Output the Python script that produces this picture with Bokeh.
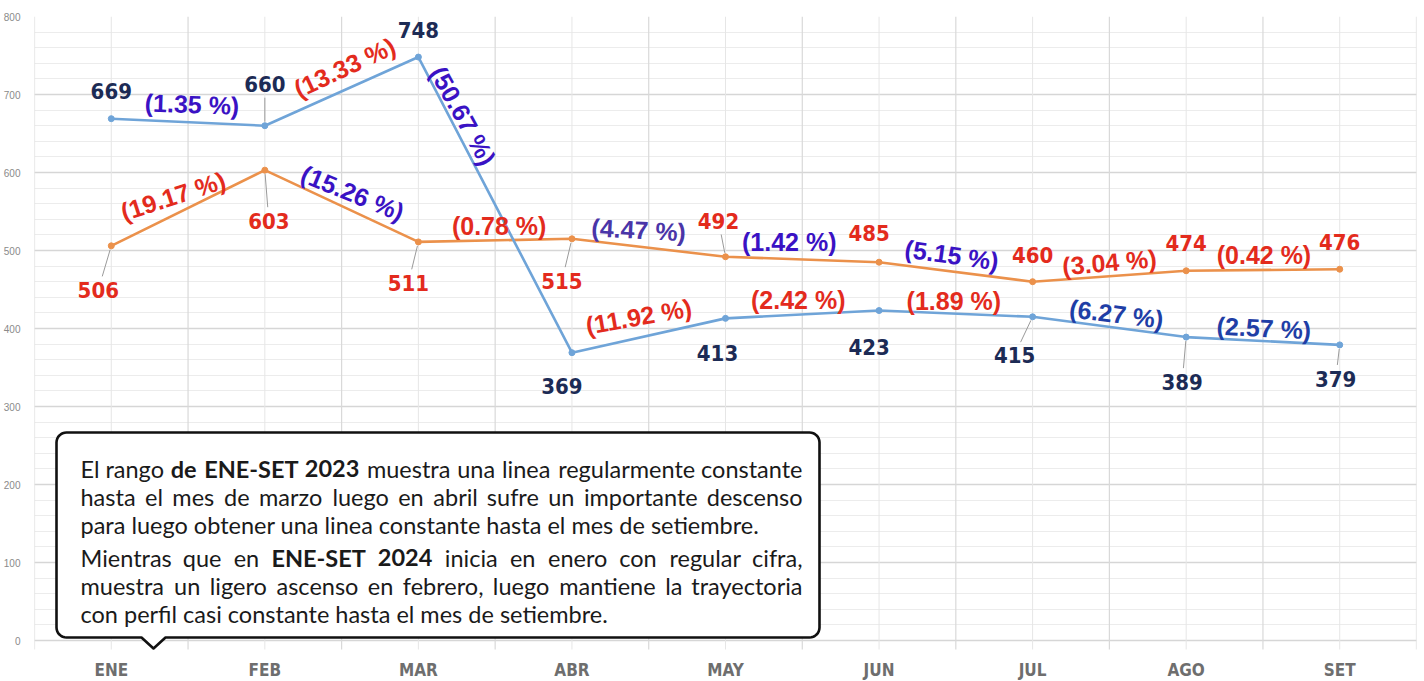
import math
from bokeh.plotting import figure
from bokeh.models import Range1d, FixedTicker, ColumnDataSource
from bokeh.core.properties import value
from bokeh.embed import file_html
from bokeh.resources import INLINE

# ---------------- data ----------------
months = ["ENE", "FEB", "MAR", "ABR", "MAY", "JUN", "JUL", "AGO", "SET"]
y2023 = [669, 660, 748, 369, 413, 423, 415, 389, 379]
y2024 = [506, 603, 511, 515, 492, 485, 460, 474, 476]
pct2023 = ["(1.35 %)", "(13.33 %)", "(50.67 %)", "(11.92 %)", "(2.42 %)",
           "(1.89 %)", "(6.27 %)", "(2.57 %)"]
pct2024 = ["(19.17 %)", "(15.26 %)", "(0.78 %)", "(4.47 %)", "(1.42 %)",
           "(5.15 %)", "(3.04 %)", "(0.42 %)"]
yticks = list(range(0, 801, 100))
yminor = list(range(0, 801, 20))

# callout text: lines of (text, bold) runs; justified flag
note_lines = [
    ([("El rango ", 0), ("de ENE-SET 2023", 1), (" muestra una linea regularmente constante", 0)], True),
    ([("hasta el mes de marzo  luego en abril sufre un importante descenso", 0)], True),
    ([("para luego obtener una linea constante hasta el mes de setiembre.", 0)], False),
    ([("Mientras que en ", 0), ("ENE-SET 2024", 1), (" inicia en enero con regular cifra,", 0)], True),
    ([("muestra un ligero ascenso en febrero, luego mantiene la trayectoria", 0)], True),
    ([("con perfil casi constante hasta el mes de setiembre.", 0)], False),
]

# ---------------- styles ----------------
BLUE = "#6fa4d8"
ORANGE = "#eb914b"
NAVY = "#1c2b55"
RED = "#e32b1d"
PURPLE = "#3a12c4"
PURPLE2 = "#4a35a8"
DBLUE = "#1f3ea6"

pct23_col = [PURPLE, RED, PURPLE, RED, RED, RED, DBLUE, DBLUE]
pct24_col = [RED, PURPLE, RED, PURPLE2, PURPLE, PURPLE, RED, RED]
pct23_off = [(4, -18), (3, -24), (-32, -89), (-10, -19), (-4, -14), (-2, -13), (7, -13), (1, -13)]
pct24_off = [(-15, -12), (11, -13), (4, -14), (-10, -18), (-13, -17), (-4, -17), (0, -14), (1, -15)]
pct23_ang = [-2, 25, -61, 10, 0, 0, -7, -3]
pct24_ang = [18, -22, 0, -3, 0, -8, 5, 0]

val23_off = [(0, -28), (0, -42), (0, -27), (-10, 33), (-8, 35), (-10, 36), (-18, 38), (-4, 45), (-4, 34)]
val24_off = [(-13, 44), (4, 51), (-10, 41), (-10, 42), (-7, -36), (-10, -29), (0, -27), (0, -28), (0, -27)]
lead23 = [False, True, False, False, False, False, True, True, True]
lead24 = [True, True, True, True, True, False, False, False, False]

NARROW = "DejaVu Sans Condensed"
ARIAL = "Liberation Sans"
BOXFONT = "Lato"
BOX_FS = 23.5

W, H = 1424, 681
FRAME_LEFT = 34.0
FRAME_W = 1382.0
FRAME_TOP = 16
SX = FRAME_W / 9.0          # px per category
SY = 0.78                   # px per unit
YMAX = 800
YMIN = YMAX - (H - FRAME_TOP) / SY
ZERO_PX = FRAME_TOP + YMAX * SY  # pixel y of value 0


def X(px):
    return (px - FRAME_LEFT) / SX - 0.5


def Y(py):
    return (ZERO_PX - py) / SY


p = figure(width=W, height=H, x_range=Range1d(-0.5, 8.5), y_range=Range1d(YMIN, YMAX),
           output_backend="svg", toolbar_location=None, x_axis_location=None,
           min_border_left=34, min_border_right=8, min_border_top=FRAME_TOP,
           min_border_bottom=0)
p.outline_line_color = None
p.background_fill_color = "white"
p.border_fill_color = "white"

yt = FixedTicker(ticks=yticks, minor_ticks=yminor)
p.yaxis.ticker = yt
p.ygrid.ticker = yt
p.yaxis.axis_line_color = None
p.yaxis.major_tick_line_color = None
p.yaxis.minor_tick_line_color = None
p.yaxis.major_label_text_font = ARIAL
p.yaxis.major_label_text_font_size = "10px"
p.yaxis.major_label_text_color = "#8a8a8a"
p.yaxis.major_label_standoff = 8
p.xgrid.visible = False
p.ygrid.grid_line_color = "#d6d6d6"
p.ygrid.grid_line_width = 1.5
p.ygrid.minor_grid_line_color = "#ececec"

idx = list(range(len(months)))

# vertical category grid (centres and boundaries), ending just below 0
grid_bottom = Y(649)
p.segment(x0=idx, y0=[grid_bottom] * len(idx), x1=idx, y1=[YMAX] * len(idx),
          line_color="#e6e6e6", line_width=1)
bnd = [i - 0.5 for i in range(len(months) + 1)]
p.segment(x0=bnd, y0=[grid_bottom] * len(bnd), x1=bnd, y1=[YMAX] * len(bnd),
          line_color="#d9d9d9", line_width=1.2)

# month labels (category axis)
p.text(x=idx, y=[Y(669)] * len(idx), text=months, text_font=value(NARROW),
       text_font_style="bold", text_font_size="17px", text_color="#6e6e6e",
       text_align="center", text_baseline="middle")

# lines
p.line(idx, y2024, line_color=ORANGE, line_width=2.6)
p.scatter(idx, y2024, size=6, fill_color=ORANGE, line_color=ORANGE)
p.line(idx, y2023, line_color=BLUE, line_width=2.6)
p.scatter(idx, y2023, size=6, fill_color=BLUE, line_color=BLUE)

# leader lines
lx0, ly0, lx1, ly1 = [], [], [], []
for vals, offs, leads in ((y2023, val23_off, lead23), (y2024, val24_off, lead24)):
    for i, (v, (dx, dy), ld) in enumerate(zip(vals, offs, leads)):
        if not ld:
            continue
        L = math.hypot(dx, dy)
        ux, uy = dx / L, dy / L
        s, e = 4.0, L - 14.0
        lx0.append(i + ux * s / SX)
        ly0.append(v - uy * s / SY)
        lx1.append(i + ux * e / SX)
        ly1.append(v - uy * e / SY)
p.segment(lx0, ly0, lx1, ly1, line_color="#9a9a9a", line_width=1)

# value labels
for vals, offs, col in ((y2023, val23_off, NAVY), (y2024, val24_off, RED)):
    src = ColumnDataSource(dict(x=idx, y=vals, t=[str(v) for v in vals],
                                xo=[o[0] for o in offs], yo=[o[1] for o in offs]))
    p.text(x="x", y="y", text="t", x_offset="xo", y_offset="yo", source=src,
           text_font=value(NARROW), text_font_style="bold", text_font_size="22px",
           text_color=col, text_align="center", text_baseline="middle")

# percentage labels
for vals, pcts, offs, angs, cols in ((y2023, pct2023, pct23_off, pct23_ang, pct23_col),
                                     (y2024, pct2024, pct24_off, pct24_ang, pct24_col)):
    src = ColumnDataSource(dict(
        x=[i + 0.5 for i in range(len(pcts))],
        y=[(vals[i] + vals[i + 1]) / 2 for i in range(len(pcts))],
        t=pcts, xo=[o[0] for o in offs], yo=[o[1] for o in offs],
        a=[math.radians(a) for a in angs], c=cols))
    p.text(x="x", y="y", text="t", x_offset="xo", y_offset="yo", angle="a", source=src,
           text_font=value(ARIAL), text_font_style="bold", text_font_size="25px",
           text_color="c", text_align="center", text_baseline="middle")

# callout box (pixel geometry -> data)
bx0, bx1, by0, by1, r = 56, 819, 432, 637, 10
tail = [(165, 637), (153, 648), (141, 637)]
pts = []


def arc(cx, cy, a0, a1, n=8):
    for k in range(n + 1):
        a = math.radians(a0 + (a1 - a0) * k / n)
        pts.append((cx + r * math.cos(a), cy + r * math.sin(a)))


pts.append((bx0 + r, by0))
pts.append((bx1 - r, by0))
arc(bx1 - r, by0 + r, -90, 0)
pts.append((bx1, by1 - r))
arc(bx1 - r, by1 - r, 0, 90)
pts.extend(tail)
arc(bx0 + r, by1 - r, 90, 180)
pts.append((bx0, by0 + r))
arc(bx0 + r, by0 + r, 180, 270)
p.patch([X(a) for a, b in pts], [Y(b) for a, b in pts], fill_color="white",
        line_color="#111111", line_width=2.6, line_join="round")

# ---- justified callout text: approximate glyph advances (em) for layout ----
ADV = {' ': .26, 'a': .51, 'b': .56, 'c': .46, 'd': .56, 'e': .53, 'f': .32, 'g': .51,
       'h': .56, 'i': .24, 'j': .24, 'k': .49, 'l': .24, 'm': .85, 'n': .56, 'o': .56,
       'p': .56, 'q': .56, 'r': .36, 's': .43, 't': .34, 'u': .56, 'v': .49, 'w': .76,
       'x': .48, 'y': .49, 'z': .45, ',': .21, '.': .21, '-': .34, 'E': .55, 'N': .72,
       'S': .52, 'T': .55, 'M': .86, 'A': .65, 'B': .61, 'C': .64, 'D': .70, 'F': .52,
       'G': .70, 'H': .72, 'I': .27, 'J': .35, 'K': .62, 'L': .48, 'O': .75, 'P': .58,
       'R': .61, 'U': .70, 'V': .64, 'W': .95, 'Y': .59}


def est(s, bold=False):
    return sum(ADV.get(ch, .55) for ch in s) * (1.06 if bold else 1.0)


# calibrate with rendered width of the last line (approx. 517 px at 23 px Lato)
CAL = 517.0 / (23.0 * est(note_lines[5][0][0][0]))
TX0, TX1 = 80, 802
baselines = [468, 496, 524, 557, 585, 613]


def put(t, px, py, bold, align):
    p.text(x=[X(px)], y=[Y(py)], text=[t], text_font=value(BOXFONT),
           text_font_style="bold" if bold else "normal", text_font_size=f"{BOX_FS}px",
           text_color="#1a1a1a", text_align=align, text_baseline="alphabetic")


for (runs, just), base in zip(note_lines, baselines):
    if not just:
        put("".join(t for t, b in runs), TX0, base, any(b for t, b in runs), "left")
        continue
    words = []
    for t, b in runs:
        for w in t.split():
            words.append((w, b))
    ws = [est(w, b) * BOX_FS * CAL for w, b in words]
    n = len(words)
    gap = (TX1 - TX0 - sum(ws)) / (n - 1)
    half = n // 2
    x = TX0
    for k in range(half):
        put(words[k][0], x, base, words[k][1], "left")
        x += ws[k] + gap
    x = TX1
    for k in range(n - 1, half - 1, -1):
        put(words[k][0], x, base, words[k][1], "right")
        x -= ws[k] + gap

open("out.html", "w").write(file_html(p, INLINE))
